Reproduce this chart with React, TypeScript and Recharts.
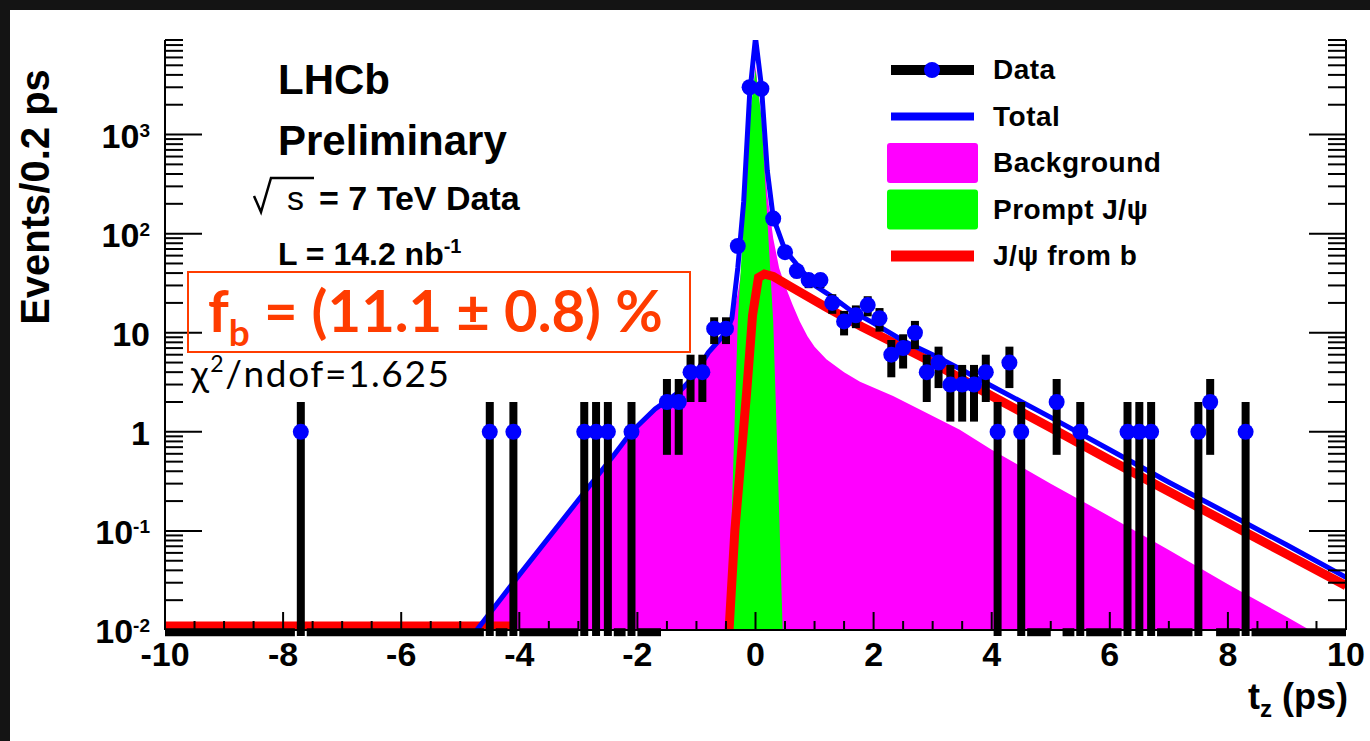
import React from "react";
import {
  ComposedChart,
  Area,
  Line,
  Scatter,
  XAxis,
  YAxis,
  ErrorBar,
  ReferenceLine,
  Legend,
} from "recharts";

const FONT = "'Liberation Sans', Arial, Helvetica, sans-serif";
const NOTE_FONT = "Lato, 'Open Sans', sans-serif";
const NOTE_RED = "#ff3c00";

// measured data: bin centres (ps) and counts per 0.2 ps
const DATA_T = [
  -7.7, -4.5, -4.1, -2.9, -2.7, -2.5, -2.1, -1.5, -1.3, -1.1, -0.9, -0.7, -0.5, -0.3, -0.1, 0.1,
  0.3, 0.5, 0.7, 0.9, 1.1, 1.3, 1.5, 1.7, 1.9, 2.1, 2.3, 2.5, 2.7, 2.9, 3.1, 3.3, 3.5, 3.7, 3.9,
  4.1, 4.3, 4.5, 5.1, 5.5, 6.3, 6.5, 6.7, 7.5, 7.7, 8.3,
];
const DATA_N = [
  1, 1, 1, 1, 1, 1, 1, 2, 2, 4, 4, 11, 11, 75, 3000, 2900,
  142, 65, 42, 34, 34, 20, 13, 15, 19, 14, 6, 7, 10, 4, 5, 3, 3, 3, 4,
  1, 5, 1, 2, 1, 1, 1, 1, 1, 2, 1,
];

// fit components
const BKG_T = [
  -4.72, -4, -3, -2.4, -2.1, -1.7, -1.3, -1.05, -0.8, -0.5, -0.4, -0.3, -0.2, -0.1, 0, 0.1, 0.2,
  0.3, 0.4, 0.5, 0.63, 0.75, 0.88, 1, 1.2, 1.5, 1.77, 2.33, 2.9, 3.46, 4, 5, 6, 7, 8, 9, 10,
];
const BKG_V = [
  0.01, 0.036, 0.205, 0.58, 1.0, 1.7, 2.5, 3.5, 6, 10, 13, 25, 60, 900, 5000, 1400, 250,
  90, 45, 30, 19, 13, 9.2, 7.2, 5.4, 4, 3.2, 2.3, 1.55, 1.05, 0.66, 0.3, 0.14, 0.064, 0.029, 0.0135, 0.0062,
];

const PROMPT_T = [-0.46, -0.38, -0.3, -0.2, -0.1, 0, 0.1, 0.2, 0.3, 0.38, 0.46];
const PROMPT_V = [0.01, 0.4, 13, 140, 1500, 4500, 1500, 140, 13, 0.4, 0.01];

const FROMB_T = [
  -10, -4.1, -4, -0.45, -0.35, -0.25, -0.15, -0.05, 0.05, 0.15, 0.3, 0.6, 1.2, 1.8, 2.4, 3, 4, 5,
  6, 7, 8, 9, 10,
];
const FROMB_V = [
  0.011, 0.011, null, 0.0095, 0.1, 0.5, 2.5, 15, 36, 39, 37, 29, 18, 11.5, 7.6, 5, 2.3, 1.1,
  0.52, 0.25, 0.12, 0.058, 0.028,
];

const TOTAL_T = [
  -4.72, -4, -3, -2.4, -2.1, -1.7, -1.3, -1.05, -0.8, -0.5, -0.4, -0.3, -0.2, -0.1, 0, 0.1, 0.2,
  0.3, 0.5, 0.75, 1, 1.3, 1.6, 2, 2.5, 3, 3.5, 4, 5, 6, 7, 8, 9, 10,
];
const TOTAL_V = [
  0.01, 0.036, 0.205, 0.58, 1.0, 1.7, 2.5, 3.6, 6.3, 10, 14, 45, 210, 2500, 9500, 3100, 430,
  145, 68, 45, 30, 23, 17, 12.5, 8.3, 6, 4.2, 2.9, 1.4, 0.66, 0.31, 0.15, 0.072, 0.034,
];

// axes
const X_MIN = -10;
const X_MAX = 10;
const X_TICKS = Array.from({ length: 41 }, (_, i) => X_MIN + i * 0.5);
const Y_MIN = 0.01;
const Y_MAX = 9000;
const Y_DECADES = [-2, -1, 0, 1, 2, 3];
const Y_TICKS = Y_DECADES.flatMap((d) =>
  [1, 2, 3, 4, 5, 6, 7, 8, 9].map((k) => k * Math.pow(10, d))
).filter((v) => v <= Y_MAX);
const BIN_HALF = 0.1;
const BIN_CENTRES = Array.from({ length: 100 }, (_, i) => X_MIN + BIN_HALF + i * 2 * BIN_HALF);

const LEGEND_ORDER = ["Data", "Total", "Background", "Prompt J/ψ", "J/ψ from b"];

const pairs = (ts: number[], vs: (number | null)[]) => ts.map((t, i) => ({ t, v: vs[i] }));

const dataPoints = DATA_T.map((t, i) => {
  const n = DATA_N[i];
  const e = Math.sqrt(n);
  // log axis: keep the lower end of the bar just under the frame
  return { t, n, ey: [Math.min(e, n - 0.0087), e], ex: BIN_HALF };
});

// empty bins: their error bars sit on the bottom of the frame, merged into runs
const zeroRuns: [number, number][] = [];
BIN_CENTRES.forEach((c) => {
  if (DATA_T.some((t) => Math.abs(t - c) < 0.01)) return;
  const last = zeroRuns[zeroRuns.length - 1];
  if (last && Math.abs(last[1] - (c - BIN_HALF)) < 1e-6) last[1] = c + BIN_HALF;
  else zeroRuns.push([c - BIN_HALF, c + BIN_HALF]);
});

const isDecade = (v: number) => {
  const l = Math.log10(v);
  return Math.abs(l - Math.round(l)) < 1e-6;
};
const isEven = (v: number) => Math.abs(v / 2 - Math.round(v / 2)) < 1e-6;

const AXIS_LINE = { stroke: "#000", strokeWidth: 2 };

function yLabel(v: number) {
  const e = Math.round(Math.log10(v));
  if (e === 0) return "1";
  if (e === 1) return "10";
  return [
    <tspan key="b">10</tspan>,
    <tspan key="e" dy={-11} fontSize={19}>
      {e}
    </tspan>,
  ];
}

const LeftTick = (p: any) => {
  const { x, y, payload } = p;
  const major = isDecade(payload.value);
  return (
    <g>
      <line x1={x} x2={x + (major ? 37 : 18)} y1={y} y2={y} stroke="#000" strokeWidth={2} />
      {major && (
        <text x={x - 15} y={y + 13} textAnchor="end" fontFamily={FONT} fontWeight="bold" fontSize={34} fill="#000">
          {yLabel(payload.value)}
        </text>
      )}
    </g>
  );
};

const RightTick = (p: any) => {
  const { x, y, payload } = p;
  const major = isDecade(payload.value);
  return <line x1={x} x2={x - (major ? 37 : 18)} y1={y} y2={y} stroke="#000" strokeWidth={2} />;
};

const BottomTick = (p: any) => {
  const { x, y, payload } = p;
  const major = isEven(payload.value);
  return (
    <g>
      <line x1={x} x2={x} y1={y} y2={y - (major ? 18 : 9)} stroke="#000" strokeWidth={2} />
      {major && (
        <text x={x} y={y + 36} textAnchor="middle" fontFamily={FONT} fontWeight="bold" fontSize={34} fill="#000">
          {payload.value}
        </text>
      )}
    </g>
  );
};

const TopTick = (p: any) => {
  const { x, y, payload } = p;
  const major = isEven(payload.value);
  return <line x1={x} x2={x} y1={y} y2={y + (major ? 18 : 9)} stroke="#000" strokeWidth={2} />;
};

const renderLegend = (props: any) => {
  const items = (props.payload || []).slice().sort(
    (a: any, b: any) => LEGEND_ORDER.indexOf(a.value) - LEGEND_ORDER.indexOf(b.value)
  );
  return (
    <svg width={320} height={240}>
      {items.map((it: any, i: number) => {
        const cy = 25 + i * 46.5;
        let mark;
        if (it.value === "Data") {
          mark = (
            <g>
              <line x1={4} x2={87} y1={cy} y2={cy} stroke="#000" strokeWidth={10} />
              <circle cx={45} cy={cy} r={8} fill="#0000ff" />
            </g>
          );
        } else if (it.value === "Background" || it.value === "Prompt J/ψ") {
          mark = <rect x={0} y={cy - 20} width={91} height={40} rx={3} fill={it.color} />;
        } else {
          mark = (
            <line x1={4} x2={87} y1={cy} y2={cy} stroke={it.color} strokeWidth={it.value === "Total" ? 8 : 11} />
          );
        }
        return (
          <g key={it.value}>
            {mark}
            <text x={106} y={cy + 9} fontFamily={FONT} fontWeight="bold" fontSize={28} letterSpacing={0.5} fill="#000">
              {it.value}
            </text>
          </g>
        );
      })}
    </svg>
  );
};

export default function App() {
  return (
    <div style={{ position: "fixed", left: 0, top: 0, width: 1370, height: 741, background: "#141414" }}>
      <div style={{ position: "absolute", left: 10, top: 10, width: 1360, height: 731, background: "#ffffff" }}>
        <ComposedChart width={1360} height={731} margin={{ top: 30, right: 14, bottom: 51, left: 75 }}>
          <XAxis
            dataKey="t"
            type="number"
            domain={[X_MIN, X_MAX]}
            ticks={X_TICKS}
            interval={0}
            allowDataOverflow
            tickSize={0}
            tickMargin={0}
            tickLine={false}
            tick={BottomTick}
            axisLine={AXIS_LINE}
            height={60}
          />
          <XAxis
            xAxisId="top"
            orientation="top"
            type="number"
            domain={[X_MIN, X_MAX]}
            ticks={X_TICKS}
            interval={0}
            allowDataOverflow
            tickSize={0}
            tickMargin={0}
            tickLine={false}
            tick={TopTick}
            axisLine={AXIS_LINE}
            height={0}
          />
          <YAxis
            scale="log"
            type="number"
            domain={[Y_MIN, Y_MAX]}
            ticks={Y_TICKS}
            interval={0}
            allowDataOverflow
            tickSize={0}
            tickMargin={0}
            tickLine={false}
            tick={LeftTick}
            axisLine={AXIS_LINE}
            width={80}
          />
          <YAxis
            yAxisId="r"
            orientation="right"
            scale="log"
            type="number"
            domain={[Y_MIN, Y_MAX]}
            ticks={Y_TICKS}
            interval={0}
            allowDataOverflow
            tickSize={0}
            tickMargin={0}
            tickLine={false}
            tick={RightTick}
            axisLine={AXIS_LINE}
            width={10}
          />
          <Area
            name="Background"
            data={pairs(BKG_T, BKG_V)}
            dataKey="v"
            type="linear"
            stroke="none"
            fill="#ff00ff"
            fillOpacity={1}
            isAnimationActive={false}
          />
          <Area
            name="Prompt J/ψ"
            data={pairs(PROMPT_T, PROMPT_V)}
            dataKey="v"
            type="linear"
            stroke="none"
            fill="#00ff00"
            fillOpacity={1}
            isAnimationActive={false}
          />
          <Line
            name="J/ψ from b"
            data={pairs(FROMB_T, FROMB_V)}
            dataKey="v"
            type="linear"
            stroke="#ff0000"
            strokeWidth={9}
            dot={false}
            connectNulls={false}
            isAnimationActive={false}
          />
          <Line
            name="Total"
            data={pairs(TOTAL_T, TOTAL_V)}
            dataKey="v"
            type="linear"
            stroke="#0000ff"
            strokeWidth={5}
            dot={false}
            isAnimationActive={false}
          />
          {zeroRuns.map(([a, b]) => (
            <ReferenceLine
              key={a}
              segment={[
                { x: a, y: 0.0095 },
                { x: b, y: 0.0095 },
              ]}
              stroke="#000"
              strokeWidth={8}
              ifOverflow="visible"
            />
          ))}
          <Scatter
            name="Data"
            data={dataPoints}
            dataKey="n"
            fill="#0000ff"
            isAnimationActive={false}
            shape={(p: any) => <circle cx={p.cx} cy={p.cy} r={8} fill="#0000ff" />}
          >
            <ErrorBar dataKey="ey" direction="y" width={0} stroke="#000" strokeWidth={8} />
            <ErrorBar dataKey="ex" direction="x" width={0} stroke="#000" strokeWidth={8} />
          </Scatter>
          <Legend
            layout="vertical"
            align="center"
            verticalAlign="middle"
            width={320}
            height={240}
            wrapperStyle={{ left: 877, top: 35, width: 320, height: 240 }}
            content={renderLegend}
          />
        </ComposedChart>
        <svg
          width={1360}
          height={731}
          style={{ position: "absolute", left: 0, top: 0, pointerEvents: "none" }}
        >
          <text transform="translate(39,187) rotate(-90)" textAnchor="middle" fontFamily={FONT} fontWeight="bold" fontSize={40} fill="#000">
            Events/0.2 ps
          </text>
          <text x={1338} y={699} textAnchor="end" fontFamily={FONT} fontWeight="bold" fontSize={36} fill="#000">
            <tspan>t</tspan>
            <tspan fontSize={24} dy={8}>z</tspan>
            <tspan dy={-8}> (ps)</tspan>
          </text>
          <text x={268} y={84} fontFamily={FONT} fontWeight="bold" fontSize={42} fill="#000">LHCb</text>
          <text x={268} y={145} fontFamily={FONT} fontWeight="bold" fontSize={42} fill="#000">Preliminary</text>
          <polyline points="244,186 251,202 261,168 304,168" fill="none" stroke="#000" strokeWidth={2.5} />
          <text x={277} y={200} fontFamily={FONT} fontSize={34} fill="#000">s</text>
          <text x={309} y={200} fontFamily={FONT} fontWeight="bold" fontSize={34} fill="#000">= 7 TeV Data</text>
          <text x={268} y={255} fontFamily={FONT} fontWeight="bold" fontSize={32} fill="#000">
            <tspan>L = 14.2 nb</tspan>
            <tspan dy={-12} fontSize={20}>-1</tspan>
          </text>
          <rect x={178} y={262} width={502} height={80} fill="none" stroke={NOTE_RED} strokeWidth={2} />
          <text x={198} y={322} fontFamily={NOTE_FONT} fontWeight="bold" fontSize={58} fill={NOTE_RED}>
            <tspan>f</tspan>
            <tspan fontSize={37} dy={14}>b</tspan>
            <tspan dy={-14}> = (11.1 ± 0.8) %</tspan>
          </text>
          <text x={181} y={377} fontFamily={NOTE_FONT} fontSize={37} letterSpacing={1.6} fill="#000">
            <tspan>χ</tspan>
            <tspan fontSize={23} dy={-15}>2</tspan>
            <tspan dy={15}>/ndof=1.625</tspan>
          </text>
        </svg>
      </div>
    </div>
  );
}
